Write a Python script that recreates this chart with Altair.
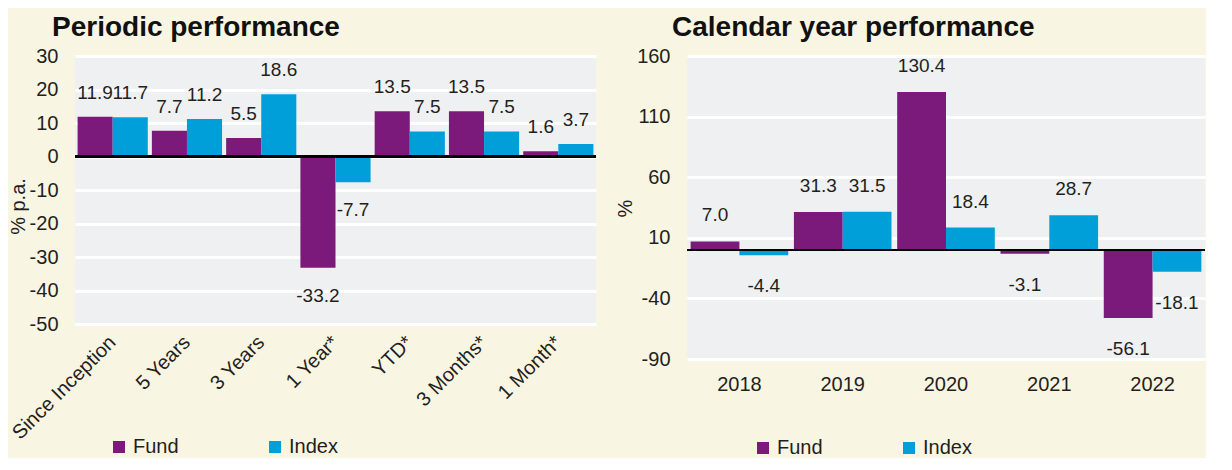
import altair as alt
import pandas as pd

# ---- data ----
periods = ["Since Inception", "5 Years", "3 Years", "1 Year*", "YTD*", "3 Months*", "1 Month*"]
period_fund = [11.9, 7.7, 5.5, -33.2, 13.5, 13.5, 1.6]
period_index = [11.7, 11.2, 18.6, -7.7, 7.5, 7.5, 3.7]

years = ["2018", "2019", "2020", "2021", "2022"]
year_fund = [7.0, 31.3, 130.4, -3.1, -56.1]
year_index = [-4.4, 31.5, 18.4, 28.7, -18.1]

series = ["Fund", "Index"]
left_ticks = [30, 20, 10, 0, -10, -20, -30, -40, -50]
right_ticks = [160, 110, 60, 10, -40, -90]

# ---- style ----
FUND = "#7b1a7a"
INDEX = "#009fda"
CREAM = "#f9f5e3"
PLOT = "#eff0f2"
TXT = "#231f20"
FONT = "Liberation Sans"
MINUS = "\u2212"


def panel(cats, fund, index, ticks, ytitle, title, width, height,
          xangle, pos_dy, neg_dy, title_dx, title_offset, ytitle_y,
          legend_x, legend_y, col_pad):
    n = len(cats)
    df = pd.DataFrame({
        "cat": list(cats) * 2,
        "series": [series[0]] * n + [series[1]] * n,
        "value": list(fund) + list(index),
    })
    xaxis = alt.Axis(
        title=None, domain=False, ticks=False, labelAngle=xangle,
        labelFontSize=20, labelColor=TXT, labelFont=FONT,
        labelPadding=15,
        **({"labelAlign": "right", "labelBaseline": "middle"} if xangle != 0 else {}),
    )
    x = alt.X("cat:N", sort=list(cats),
              scale=alt.Scale(paddingInner=0.055, paddingOuter=0.035), axis=xaxis)
    xo = alt.XOffset("series:N", sort=series,
                     scale=alt.Scale(paddingInner=0, paddingOuter=0))
    yaxis = alt.Axis(
        title=ytitle, values=ticks, tickCount=len(ticks), domain=False, ticks=False,
        labelOverlap=False,
        labelExpr=f"replace(datum.label, '{MINUS}', '-')",
        grid=True, gridColor="white", gridWidth=3,
        labelFontSize=20, labelColor=TXT, labelFont=FONT, labelPadding=17,
        titleFontSize=20, titleFontWeight="normal", titleColor=TXT, titleFont=FONT,
        titlePadding=1, titleY=ytitle_y,
    )
    y = alt.Y("value:Q", scale=alt.Scale(domain=[min(ticks), max(ticks)], nice=False, zero=False),
              axis=yaxis)

    color = alt.Color(
        "series:N", scale=alt.Scale(domain=series, range=[FUND, INDEX]),
        legend=alt.Legend(
            title=None, orient="none", legendX=legend_x, legendY=legend_y,
            direction="horizontal", symbolType="square", symbolSize=144,
            symbolStrokeWidth=0, labelFontSize=20, labelColor=TXT, labelFont=FONT,
            labelOffset=4, columnPadding=col_pad, padding=0,
        ),
    )
    bars = alt.Chart().mark_bar().encode(x=x, xOffset=xo, y=y, y2=alt.datum(0), color=color)
    zero = alt.Chart().mark_rule(color="black", strokeWidth=1.3).encode(y=alt.datum(0))
    label_calc = f"replace(format(datum.value, '.1f'), '{MINUS}', '-')"
    text_pos = alt.Chart().mark_text(dy=pos_dy, fontSize=19, font=FONT, color=TXT,
                                     baseline="middle").encode(
        x=x, xOffset=xo, y=y, text=alt.Text("lab:N")
    ).transform_filter("datum.value >= 0").transform_calculate(lab=label_calc)
    text_neg = alt.Chart().mark_text(dy=neg_dy, fontSize=19, font=FONT, color=TXT,
                                     baseline="middle").encode(
        x=x, xOffset=xo, y=y, text=alt.Text("lab:N")
    ).transform_filter("datum.value < 0").transform_calculate(lab=label_calc)

    return alt.layer(bars, zero, text_pos, text_neg, data=df).properties(
        width=width, height=height,
        title=alt.TitleParams(title, anchor="start", frame="group", dx=title_dx,
                              offset=title_offset, fontSize=28, fontWeight="bold",
                              font=FONT, color="#111111"),
    )


left = panel(periods, period_fund, period_index, left_ticks, "% p.a.",
             "Periodic performance", 521, 268, -45, -24, 28, -23, 4, 150,
             34, 381, 86)
right = panel(years, year_fund, year_index, right_ticks, "%",
              "Calendar year performance", 518, 303, 0, -26, 31, -15, 4, 152,
              66, 382, 76)

chart = alt.hconcat(left, right, spacing=18).resolve_scale(
    color="independent", xOffset="independent", x="independent", y="independent"
).properties(
    background=CREAM, padding={"top": 6, "left": 0, "right": 0, "bottom": 0}
).configure_view(fill=PLOT, stroke=None)

chart.save("out.html", embed_options={"renderer": "svg", "actions": False})
